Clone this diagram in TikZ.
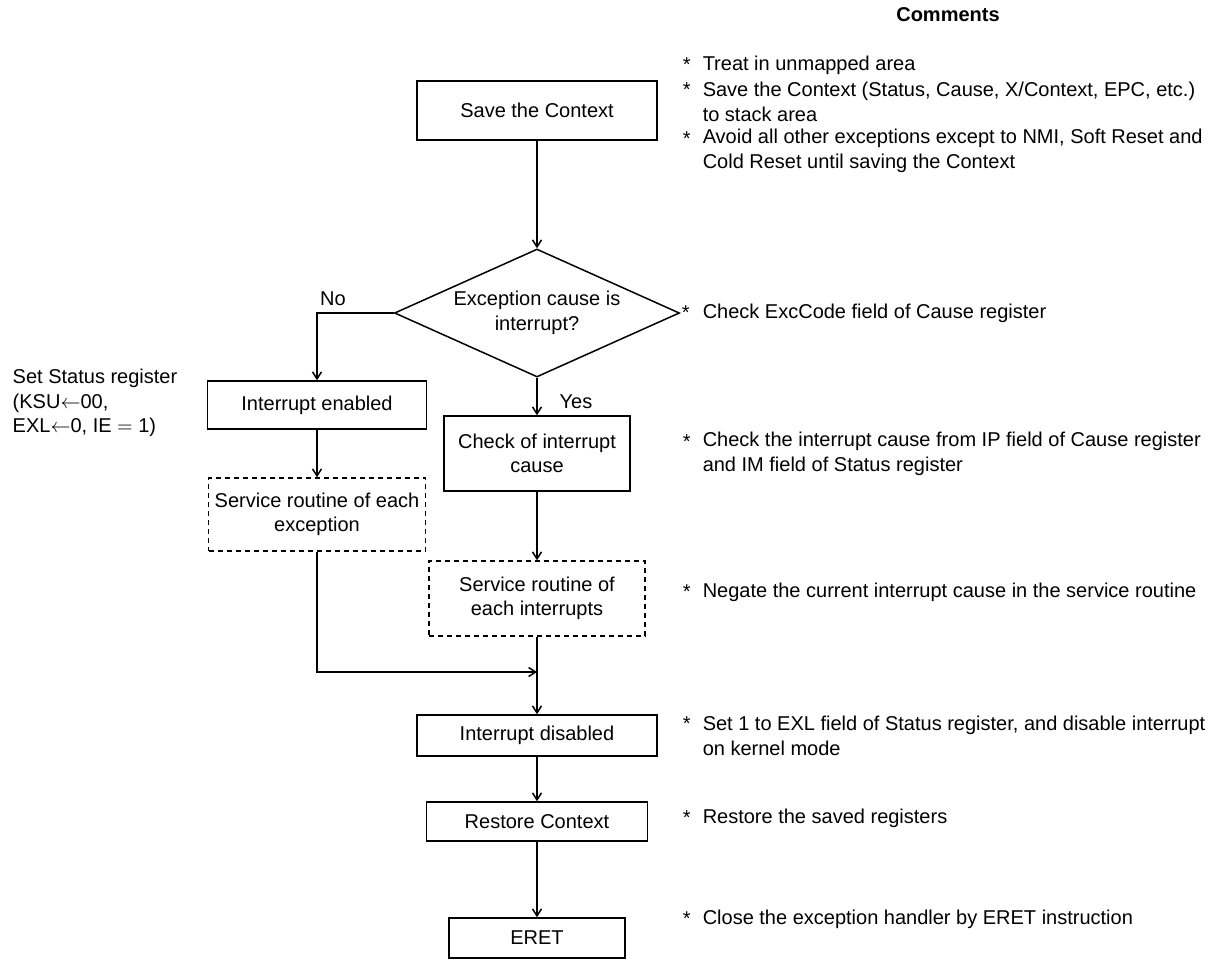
\documentclass[tikz,border=0pt]{standalone}
\usepackage{fontspec}
\setmainfont{Liberation Sans}
\usetikzlibrary{shapes.geometric, arrows.meta}

\begin{document}
\begin{tikzpicture}[x=0.5pt, y=-0.5pt, >={Straight Barb[length=3.5pt,width=4.5pt]}, line width=0.75pt,
  font=\fontsize{10}{12.25}\selectfont,
  box/.style={draw, align=center, inner sep=0pt},
  dbox/.style={box, dash pattern=on 2.5pt off 2pt},
  note/.style={anchor=west, align=left, inner sep=0pt},
  star/.style={anchor=west, inner sep=0pt}]
  \useasboundingbox (0,0) rectangle (1216,960);

  % Flow boxes
  \node[box, minimum width=120pt, minimum height=29.5pt] (save) at (537,110.5) {Save the Context};
  \node[box, shape=diamond, aspect=2.2, minimum width=142.5pt, minimum height=64pt] (dec) at (537,313) {Exception cause is\\interrupt?};
  \node[box, minimum width=109.5pt, minimum height=24pt] (inten) at (317,405) {Interrupt enabled};
  \node[dbox, minimum width=108.5pt, minimum height=36.5pt] (svexc) at (317,514.5) {Service routine of each\\exception};
  \node[box, minimum width=93pt, minimum height=37.5pt] (check) at (537,453.5) {Check of interrupt\\cause};
  \node[dbox, minimum width=108pt, minimum height=37.5pt] (svint) at (537,598.5) {Service routine of\\each interrupts};
  \node[box, minimum width=120pt, minimum height=20.5pt] (intdis) at (537,735.5) {Interrupt disabled};
  \node[box, minimum width=110.5pt, minimum height=19.5pt] (restore) at (537,821.5) {Restore Context};
  \node[box, minimum width=88pt, minimum height=20pt] (eret) at (537,938) {ERET};
  \coordinate (merge) at (537,672);

  % Connectors
  \draw[->] (save) -- (dec);
  \draw[->] (dec.west) -| (inten.north);
  \node (no) at (333,299) {No};
  \draw[->] (dec.south) -- (check.north);
  \node (yes) at (576,402) {Yes};
  \draw[->] (inten) -- (svexc);
  \draw[->] (check) -- (svint);
  \draw[->] (svexc.south) |- (merge);
  \draw[->] (svint) -- (intdis);
  \draw[->] (intdis) -- (restore);
  \draw[->] (restore) -- (eret);

  % Left note
  \node[note] (status) at (12,403) {Set Status register\\(KSU$\leftarrow$00,\\EXL$\leftarrow$0, IE $=$ 1)};

  % Comments
  \node[font=\fontsize{10}{12.25}\selectfont\bfseries] (head) at (948,15) {Comments};
  \node[star] (s1) at (682,65) {*};
  \node[note] (c1) at (702,65) {Treat in unmapped area};
  \node[star] (s2) at (682,90) {*};
  \node[note] (c2) at (702,102) {Save the Context (Status, Cause, X/Context, EPC, etc.)\\to stack area};
  \node[star] (s3) at (682,139) {*};
  \node[note] (c3) at (702,151) {Avoid all other exceptions except to NMI, Soft Reset and\\Cold Reset until saving the Context};
  \node[star] (s4) at (681,313) {*};
  \node[note] (c4) at (702,313) {Check ExcCode field of Cause register};
  \node[star] (s5) at (682,442) {*};
  \node[note] (c5) at (702,454) {Check the interrupt cause from IP field of Cause register\\and IM field of Status register};
  \node[star] (s6) at (682,592) {*};
  \node[note] (c6) at (702,592) {Negate the current interrupt cause in the service routine};
  \node[star] (s7) at (682,724) {*};
  \node[note] (c7) at (702,736) {Set 1 to EXL field of Status register, and disable interrupt\\on kernel mode};
  \node[star] (s8) at (682,818) {*};
  \node[note] (c8) at (702,818) {Restore the saved registers};
  \node[star] (s9) at (682,919) {*};
  \node[note] (c9) at (702,919) {Close the exception handler by ERET instruction};
\end{tikzpicture}
\end{document}
